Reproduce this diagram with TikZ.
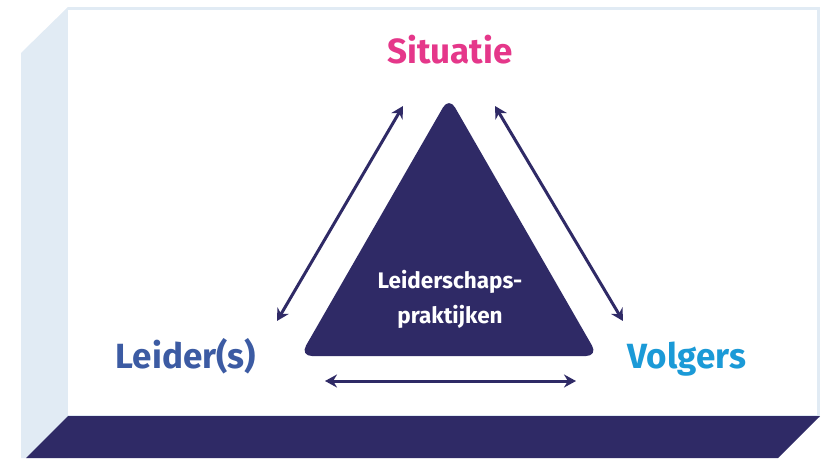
\documentclass[tikz,border=0pt]{standalone}
\usepackage{fontspec}
\setmainfont{Fira Sans}
\usetikzlibrary{arrows.meta}
\definecolor{navy}{HTML}{2F2A66}
\definecolor{sideblue}{HTML}{E1EBF4}
\definecolor{pinkc}{HTML}{E5378A}
\definecolor{leiderblue}{HTML}{3C5BA3}
\definecolor{volgblue}{HTML}{1B9AD7}
\tikzset{
  label/.style={font=\fontsize{35}{40}\selectfont\bfseries, anchor=base, inner sep=0pt},
  inner/.style={font=\fontsize{22.5}{35}\selectfont\bfseries, text=white, anchor=base, inner sep=0pt},
  link/.style={navy, line width=3pt, {Stealth[length=12pt,width=13pt]}-{Stealth[length=12pt,width=13pt]}}
}
\begin{document}
\begin{tikzpicture}[x=1pt,y=-1pt]
\useasboundingbox (0,0) rectangle (822,458);
% box: side face, front face, floor
\fill[sideblue] (21,53) -- (68,7) -- (68,458) -- (21,458) -- cycle;
\filldraw[fill=white, draw=sideblue, line width=3pt] (68,8.5) -- (818.5,8.5) -- (818.5,416) -- (68,416);
\fill[navy] (68,416) -- (820,416) -- (778,458) -- (26,458) -- cycle;
% central triangle
\fill[navy, rounded corners=12pt] (449,97) -- (598,356) -- (300,356) -- cycle;
\node[inner] (t1) at (450,288) {Leiderschaps-};
\node[inner] (t2) at (450,323) {praktijken};
% corner labels
\node[label, text=pinkc] (sit) at (450,63) {Situatie};
\node[label, text=leiderblue] (lei) at (186,368) {Leider(s)};
\node[label, text=volgblue] (vol) at (687,368) {Volgers};
% arrow ends
\coordinate (a1) at (277,321);
\coordinate (a2) at (403,106);
\coordinate (b1) at (495,106);
\coordinate (b2) at (623,321);
\coordinate (c1) at (325,381);
\coordinate (c2) at (576,381);
\draw[link] (a1) -- (a2);
\draw[link] (b1) -- (b2);
\draw[link] (c1) -- (c2);
\end{tikzpicture}
\end{document}
